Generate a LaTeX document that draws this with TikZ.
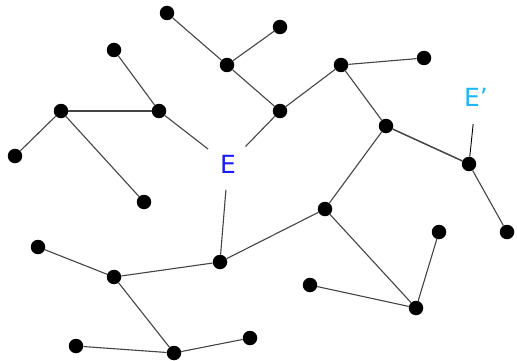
\documentclass[tikz,border=0pt]{standalone}
\usepackage{fontspec}
\setmainfont{DejaVu Sans}
\definecolor{edgegray}{HTML}{444444}
\definecolor{eblue}{HTML}{1A1AFF}
\definecolor{ecyan}{HTML}{22B4F5}

\begin{document}
\begin{tikzpicture}[x=1pt, y=-1pt,
    dot/.style={circle, fill=black, inner sep=0pt, minimum size=14.5pt},
    link/.style={edgegray, line width=1.1pt},
    tag/.style={circle, inner sep=0pt, minimum size=50pt, font=\fontsize{25}{25}\selectfont}]
\useasboundingbox (0,0) rectangle (517,361);

    % Upper left cluster
        \node [dot] (a) at (167, 13) {};
        \node [dot] (b) at (280, 27) {};
        \node [dot] (c) at (227, 65) {};
        \node [dot] (d) at (114, 50) {};
        \node [dot] (e) at (61, 111) {};
        \node [dot] (f) at (159, 111) {};
        \node [dot] (g) at (15, 156) {};
        \node [dot] (h) at (144, 202) {};
        \node [dot] (i) at (280, 111) {};

    % Upper right cluster
        \node [dot] (j) at (341, 65) {};
        \node [dot] (k) at (424, 58) {};
        \node [dot] (l) at (386, 126) {};
        \node [dot] (m) at (469, 164) {};
        \node [dot] (n) at (507, 232) {};
        \node [dot] (o) at (325, 209) {};

    % Lower clusters
        \node [dot] (p) at (220, 262) {};
        \node [dot] (q) at (38, 247) {};
        \node [dot] (r) at (114, 277) {};
        \node [dot] (s) at (76, 346) {};
        \node [dot] (t) at (174, 353) {};
        \node [dot] (u) at (250, 338) {};
        \node [dot] (v) at (310, 285) {};
        \node [dot] (w) at (416, 308) {};
        \node [dot] (x) at (439, 232) {};

    % Labels
        \node [tag, text=eblue] (E) at (228, 164.5) {E};
        \node [tag, text=ecyan, minimum size=54pt] (Ep) at (476, 97) {E'};

    % Edges
        \draw [link] (a) -- (c);
        \draw [link] (b) -- (c);
        \draw [link] (c) -- (i);
        \draw [link] (d) -- (f);
        \draw [link] (e) -- (f);
        \draw [link] (e) -- (g);
        \draw [link] (e) -- (h);
        \draw [link] (i) -- (j);
        \draw [link] (j) -- (k);
        \draw [link] (j) -- (l);
        \draw [link, line width=1.5pt] (l) -- (m);
        \draw [link] (m) -- (n);
        \draw [link] (l) -- (o);
        \draw [link] (o) -- (p);
        \draw [link] (o) -- (w);
        \draw [link] (w) -- (x);
        \draw [link] (w) -- (v);
        \draw [link] (p) -- (r);
        \draw [link] (r) -- (q);
        \draw [link] (r) -- (t);
        \draw [link] (t) -- (s);
        \draw [link] (t) -- (u);

        %% links to the labels
        \draw [link] (f) -- (E);
        \draw [link] (i) -- (E);
        \draw [link] (p) -- (E);
        \draw [black, line width=0.9pt] (m) -- (Ep);

\end{tikzpicture}
\end{document}
